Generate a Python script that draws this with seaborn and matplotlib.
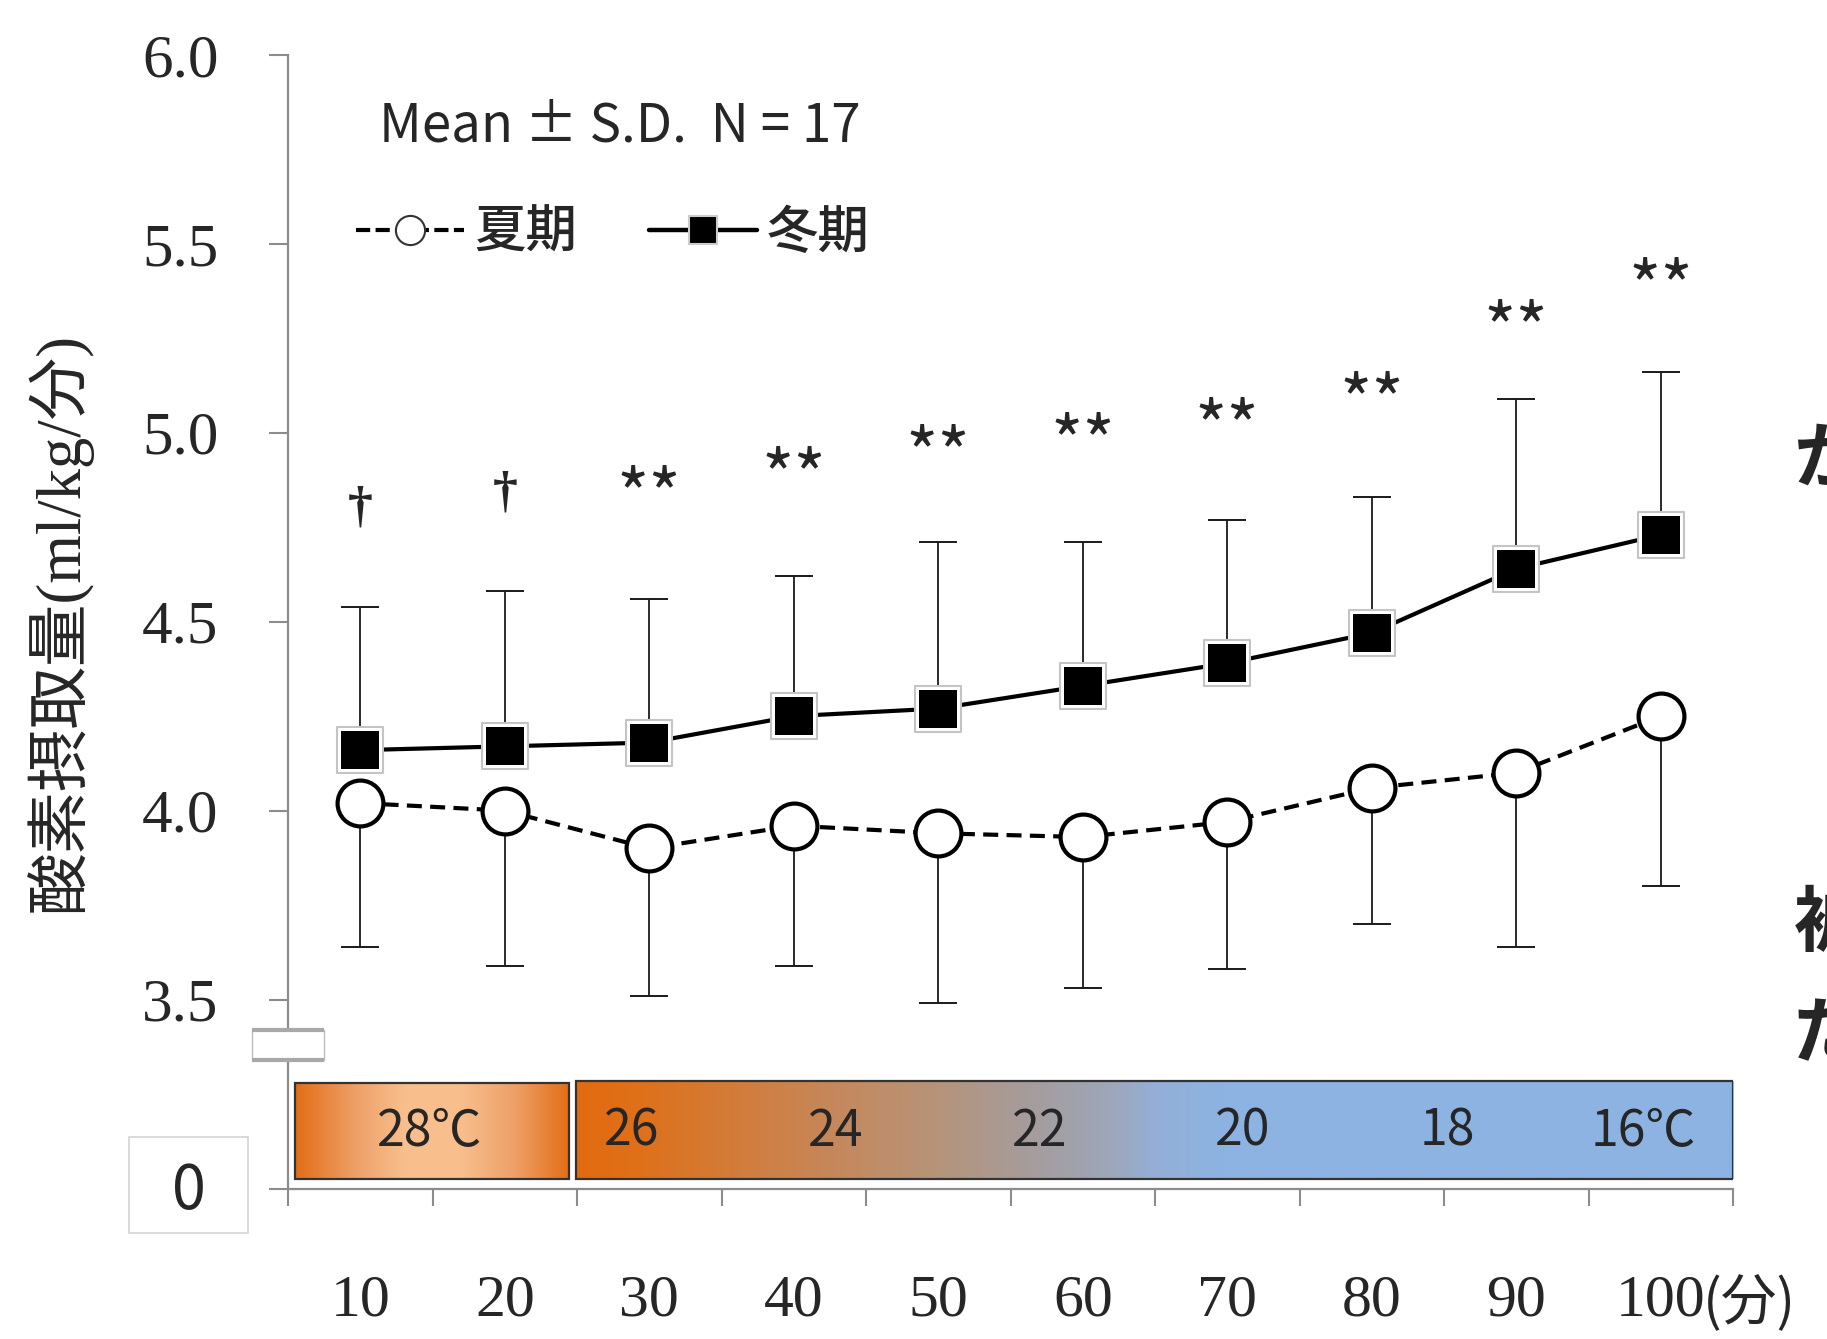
import numpy as np
import matplotlib
matplotlib.use("Agg")
import matplotlib.pyplot as plt
import matplotlib.transforms as mtransforms
from matplotlib.patches import Rectangle
from matplotlib.lines import Line2D
from matplotlib.colors import LinearSegmentedColormap
import seaborn as sns

# ---- data -----------------------------------------------------------------
minutes = [10, 20, 30, 40, 50, 60, 70, 80, 90, 100]
summer_mean = [4.02, 4.00, 3.90, 3.96, 3.94, 3.93, 3.97, 4.06, 4.10, 4.25]
summer_sd = [0.38, 0.41, 0.39, 0.37, 0.45, 0.40, 0.39, 0.36, 0.46, 0.45]
winter_mean = [4.16, 4.17, 4.18, 4.25, 4.27, 4.33, 4.39, 4.47, 4.64, 4.73]
winter_sd = [0.38, 0.41, 0.38, 0.37, 0.44, 0.38, 0.38, 0.36, 0.45, 0.43]
series_names = ["夏期", "冬期"]

sig_marks = ["†", "†", "**", "**", "**", "**", "**", "**", "**", "**"]
sig_y = [4.80, 4.84, 4.87, 4.92, 4.98, 5.01, 5.05, 5.12, 5.31, 5.42]

y_ticks = [3.5, 4.0, 4.5, 5.0, 5.5, 6.0]
y_tick_labels = ["3.5", "4.0", "4.5", "5.0", "5.5", "6.0"]
x_tick_labels = ["10", "20", "30", "40", "50", "60", "70", "80", "90", "100"]

temp_labels = ["28℃", "26", "24", "22", "20", "18", "16℃"]
temp_label_x = [14.8, 28.8, 42.9, 57.0, 71.1, 85.2, 98.8]

# ---- style ----------------------------------------------------------------
sns.set_style("white")
plt.rcParams["font.family"] = ["Liberation Serif", "Noto Sans CJK JP", "DejaVu Sans"]
CJK = ["Noto Sans CJK JP", "DejaVu Sans"]
SERIF = ["Liberation Serif", "Noto Sans CJK JP"]
AXIS_GREY = "#8c8c8c"

W, H = 1827, 1339
fig = plt.figure(figsize=(W / 100, H / 100), dpi=100)
ax = fig.add_axes([288 / W, 1 - 1188.5 / H, 1445 / W, (1188.5 - 54.8) / H])

# 3.0 on the axis stands for the broken-off zero line
Y0 = 3.0
ax.set_xlim(5, 105)
ax.set_ylim(Y0, 6.0)

# ---- error bars (one-sided) -------------------------------------------------
zeros = np.zeros(len(minutes))
ax.errorbar(minutes, summer_mean, yerr=[summer_sd, zeros], fmt="none",
            ecolor="#1a1a1a", elinewidth=1.3, capsize=14, capthick=1.4, zorder=2)
ax.errorbar(minutes, winter_mean, yerr=[zeros, winter_sd], fmt="none",
            ecolor="#1a1a1a", elinewidth=1.3, capsize=14, capthick=1.4, zorder=2)

# ---- summer: dashed line with open circles ------------------------------
sns.lineplot(x=minutes, y=summer_mean, ax=ax, color="black", linewidth=3,
             linestyle=(0, (3.6, 2.0)), marker="o", markersize=33,
             markerfacecolor="white", markeredgecolor="black",
             markeredgewidth=3, errorbar=None, zorder=4)

# ---- winter: solid line with filled squares -------------------------------
sns.lineplot(x=minutes, y=winter_mean, ax=ax, color="black", linewidth=3,
             errorbar=None, zorder=3)
sns.scatterplot(x=minutes, y=winter_mean, ax=ax, marker="s", s=33 ** 2,
                color="white", edgecolor="#c4c4c4", linewidth=1.5, zorder=5)
sns.scatterplot(x=minutes, y=winter_mean, ax=ax, marker="s", s=28 ** 2,
                color="black", edgecolor="black", linewidth=0, zorder=6)

# ---- significance marks ---------------------------------------------------
for x, y, m in zip(minutes, sig_y, sig_marks):
    if m == "†":
        ax.text(x, y, m, ha="center", va="center", fontsize=36,
                family=SERIF, fontweight="bold", zorder=7)
    else:
        ax.text(x, y - 0.05, m, ha="center", va="center", fontsize=50,
                family=CJK, zorder=7)

# ---- axes ----------------------------------------------------------------
for side in ("top", "right"):
    ax.spines[side].set_visible(False)
for side in ("left", "bottom"):
    ax.spines[side].set_color(AXIS_GREY)
    ax.spines[side].set_linewidth(1.6)

ax.set_yticks([Y0] + y_ticks)
ax.set_yticklabels([""] + y_tick_labels, fontsize=44, family=SERIF)
ax.tick_params(axis="y", left=True, direction="out", length=14, width=1.5,
               color=AXIS_GREY, pad=36)

ax.set_xticks(np.arange(5, 106, 10))
ax.set_xticklabels([])
ax.set_xticks(minutes, minor=True)
ax.set_xticklabels(x_tick_labels, minor=True, fontsize=43, family=SERIF)
ax.tick_params(axis="x", which="major", bottom=True, direction="out",
               length=12, width=1.5, color=AXIS_GREY)
ax.tick_params(axis="x", which="minor", bottom=True, length=0, pad=62)
ax.text(102.9, 2.695, "(分)", ha="left", va="center", fontsize=40,
        family=CJK, clip_on=False)

ax.set_xlabel("")
ax.set_ylabel("")

# boxed zero label
fig.patches.append(Rectangle((129 / W, 1 - 1233 / H), 119 / W, 96 / H,
                             transform=fig.transFigure, facecolor="white",
                             edgecolor="#d4d4d4", linewidth=1.2))
fig.text(189 / W, 1 - 1192 / H, "0", ha="center", va="center",
         fontsize=44, family=CJK)

# axis break marker on the y spine
blend = mtransforms.blended_transform_factory(ax.transAxes, ax.transData)
ax.add_patch(Rectangle((-0.025, 3.34), 0.05, 0.08, transform=blend,
                       facecolor="white", edgecolor="#bdbdbd", linewidth=1.0,
                       clip_on=False, zorder=8))
for yy in (3.34, 3.42):
    ax.plot([-0.025, 0.025], [yy, yy], transform=blend, color="#a8a8a8",
            lw=3, clip_on=False, zorder=9, solid_capstyle="butt")

# ---- temperature band -------------------------------------------------------
band_lo, band_hi = 3.026, 3.280


def gradient_box(x0, x1, stops, y0=band_lo, y1=band_hi):
    cmap = LinearSegmentedColormap.from_list("band", stops)
    grad = np.linspace(0, 1, 512)[None, :]
    ax.imshow(grad, cmap=cmap, aspect="auto", extent=(x0, x1, y0, y1),
              origin="lower", zorder=1, interpolation="bilinear")
    ax.add_patch(Rectangle((x0, y0), x1 - x0, y1 - y0, facecolor="none",
                           edgecolor="#333333", linewidth=1.6, zorder=1.5))


gradient_box(5.45, 24.45, [(0.0, "#e36d16"), (0.22, "#eea068"),
                           (0.4, "#f8bf8d"), (0.6, "#f8bf8d"),
                           (0.8, "#eea068"), (1.0, "#e36d16")])
gradient_box(24.9, 105.0, [(0.0, "#e26b10"), (0.05, "#df7019"),
                           (0.15, "#d07e40"), (0.24, "#c38a62"),
                           (0.31, "#b69479"), (0.39, "#a69c9c"),
                           (0.46, "#9ea6b8"), (0.50, "#94afd6"),
                           (0.56, "#8db3e2"), (1.0, "#8db3e2")],
             y1=band_hi + 0.005)
for x, t in zip(temp_label_x, temp_labels):
    ax.text(x, 3.15, t, ha="center", va="center", fontsize=36,
            family=CJK, zorder=3)

# ---- legend and notes -------------------------------------------------------
fig.text(379 / W, 1 - 126 / H, "Mean ± S.D.  N = 17", ha="left",
         va="center", fontsize=38, family=CJK)

handles = [
    Line2D([], [], color="black", lw=3, linestyle=(0, (3.4, 1.3)),
           marker="o", markersize=21, markerfacecolor="white",
           markeredgecolor="#333333", markeredgewidth=1.5),
    Line2D([], [], color="black", lw=3.2, marker="s", markersize=20,
           markerfacecolor="black", markeredgecolor="#cccccc",
           markeredgewidth=1.5),
]
fig.legend(handles, series_names, loc="center left",
           bbox_to_anchor=(356 / W, 1 - 233 / H), ncol=2, frameon=False,
           prop={"family": CJK, "size": 37, "weight": "medium"},
           handlelength=2.1, handletextpad=0.2, columnspacing=1.4,
           borderpad=0, borderaxespad=0)

fig.text(58 / W, 1 - 622 / H, "酸素摂取量(ml/kg/分)", rotation=90,
         ha="center", va="center", fontsize=45, family=SERIF)

# side text running off the right edge
for yy, ch in ((460, "か"), (925, "被"), (1035, "だ")):
    fig.text(1794 / W, 1 - yy / H, ch, ha="left", va="center", fontsize=52,
             family=CJK, fontweight="bold")

fig.savefig("out.png", dpi=100)
